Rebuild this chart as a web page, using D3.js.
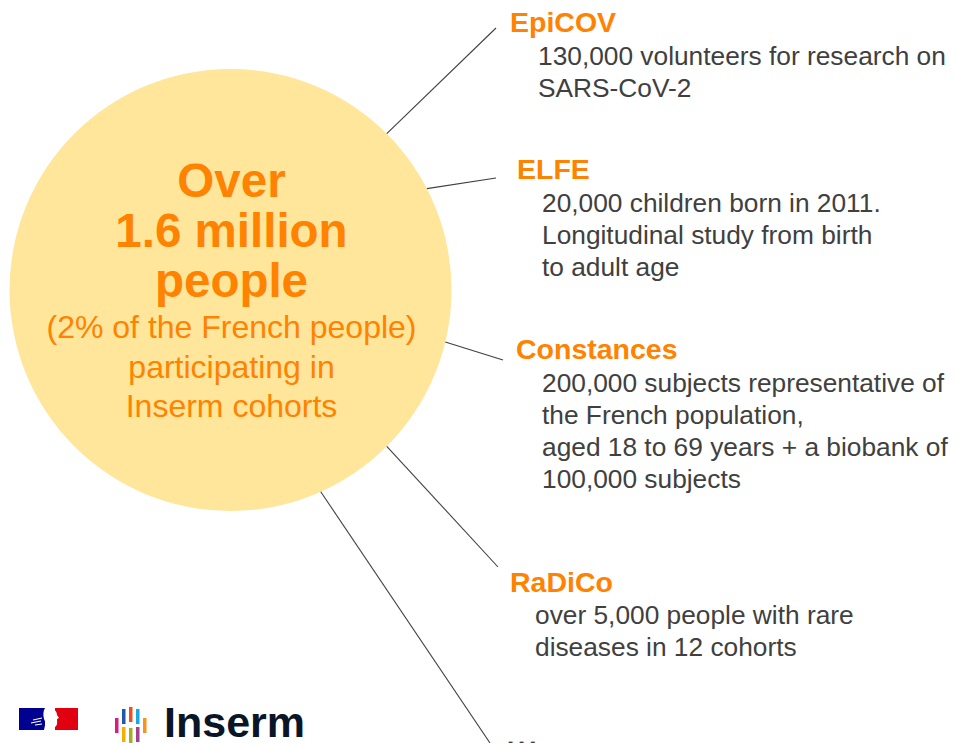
<!DOCTYPE html>
<html>
<head>
<meta charset="utf-8">
<script src="https://cdn.jsdelivr.net/npm/d3@7"></script>
<style>
  html, body { margin: 0; padding: 0; background: #fff; }
  svg { display: block; font-family: "Liberation Sans", Arial, sans-serif; }
</style>
</head>
<body>
<svg id="chart"></svg>
<script>
// --------------------
// Data
// --------------------
const headline = ["Over", "1.6 million", "people"];
const subline = ["(2% of the French people)", "participating in", "Inserm cohorts"];

const cohorts = ["EpiCOV", "ELFE", "Constances", "RaDiCo", "..."];
const descriptions = [
  ["130,000 volunteers for research on", "SARS-CoV-2"],
  ["20,000 children born in 2011.", "Longitudinal study from birth", "to adult age"],
  ["200,000 subjects representative of", "the French population,", "aged 18 to 69 years + a biobank of", "100,000 subjects"],
  ["over 5,000 people with rare", "diseases in 12 cohorts"],
  []
];
// angle (deg) where each leader leaves the circle
const leaderAngles = [-45, -27.3, 13.6, 45, 65.9];

// Inserm logo bar colours
const logoColors = ["#d81b7f", "#1f5aa6", "#f04e23", "#1aa8e0", "#f7941d", "#f6ae00", "#9cb51f", "#a3418f"];

// --------------------
// Setup
// --------------------
const width = 955;
const height = 743;

const svg = d3.select("#chart")
  .attr("width", width)
  .attr("height", height);

const orange = "#ff8200";
const grey = "#404040";

const cx = 230.5, cy = 290, r = 221;

// label layout: title position, body offset
const labelPos = [
  { tx: 510, ty: 32, bx: 538, by: 65, lx: 496, ly: 28 },
  { tx: 517, ty: 179, bx: 542, by: 212, lx: 496, ly: 178 },
  { tx: 516, ty: 359, bx: 542, by: 392, lx: 503, ly: 360 },
  { tx: 510, ty: 592, bx: 535, by: 624, lx: 498, ly: 567 },
  { tx: 505, ty: 746, bx: 0, by: 0, lx: 490, ly: 743 }
];
const lineH = 32;

// --------------------
// Circle
// --------------------
svg.append("circle")
  .attr("cx", cx)
  .attr("cy", cy)
  .attr("r", r)
  .attr("fill", "#ffe69b");

// --------------------
// Leader lines
// --------------------
svg.selectAll("line.leader")
  .data(cohorts)
  .join("line")
    .attr("class", "leader")
    .attr("x1", (d, i) => cx + r * Math.cos(leaderAngles[i] * Math.PI / 180))
    .attr("y1", (d, i) => cy + r * Math.sin(leaderAngles[i] * Math.PI / 180))
    .attr("x2", (d, i) => labelPos[i].lx)
    .attr("y2", (d, i) => labelPos[i].ly)
    .attr("stroke", "#404040")
    .attr("stroke-width", 1.1);

// --------------------
// Centre text
// --------------------
svg.selectAll("text.head")
  .data(headline)
  .join("text")
    .attr("class", "head")
    .attr("x", cx + 1)
    .attr("y", (d, i) => 197 + i * 50)
    .attr("text-anchor", "middle")
    .attr("font-size", 47.5)
    .attr("font-weight", "bold")
    .attr("fill", orange)
    .text(d => d);

svg.selectAll("text.sub")
  .data(subline)
  .join("text")
    .attr("class", "sub")
    .attr("x", cx + 1)
    .attr("y", (d, i) => 338 + i * 39.5)
    .attr("text-anchor", "middle")
    .attr("font-size", 32)
    .attr("fill", orange)
    .text(d => d);

// --------------------
// Cohort labels
// --------------------
const groups = svg.selectAll("g.cohort")
  .data(cohorts)
  .join("g")
    .attr("class", "cohort");

groups.append("text")
  .attr("x", (d, i) => labelPos[i].tx)
  .attr("y", (d, i) => labelPos[i].ty)
  .attr("font-size", (d, i) => i === 4 ? 40 : 28.5)
  .attr("font-weight", (d, i) => i === 4 ? "normal" : "bold")
  .attr("fill", (d, i) => i === 4 ? grey : orange)
  .text(d => d);

groups.each(function(d, i) {
  d3.select(this).selectAll("text.desc")
    .data(descriptions[i])
    .join("text")
      .attr("class", "desc")
      .attr("x", labelPos[i].bx)
      .attr("y", (t, j) => labelPos[i].by + j * lineH)
      .attr("font-size", 26.3)
      .attr("fill", grey)
      .text(t => t);
});

// --------------------
// Logos
// --------------------
const rf = svg.append("g").attr("class", "rf");
rf.append("rect").attr("x", 19).attr("y", 708).attr("width", 26).attr("height", 22).attr("fill", "#000091");
rf.append("rect").attr("x", 55).attr("y", 708).attr("width", 23).attr("height", 22).attr("fill", "#e1000f");
rf.append("path")
  .attr("d", "M45,708 L50,708 C55,709 57,712 57,715 L59,718 L57,719 C57,722 58,725 55,727 L53,730 L44,730 C45,726 46,722 44,719 C43,715 43,711 45,708 Z")
  .attr("fill", "#fff");
rf.append("path")
  .attr("d", "M33,720 L42,718 M31,723 L41,721 M35,725 L42,724")
  .attr("stroke", "#fff").attr("stroke-width", 1.2);

// Inserm bars: top row, middle row, bottom row
const barX = [115, 122, 129, 136, 143, 122, 129, 136];
const barY = [718, 709, 707, 709, 718, 727, 728, 727];
svg.selectAll("rect.bar")
  .data(logoColors)
  .join("rect")
    .attr("class", "bar")
    .attr("x", (d, i) => barX[i])
    .attr("y", (d, i) => barY[i])
    .attr("width", 3.5)
    .attr("height", 15)
    .attr("fill", d => d);

svg.append("text")
  .attr("x", 164)
  .attr("y", 737)
  .attr("font-size", 43)
  .attr("font-weight", "bold")
  .attr("fill", "#0a1628")
  .text("Inserm");
</script>
</body>
</html>
